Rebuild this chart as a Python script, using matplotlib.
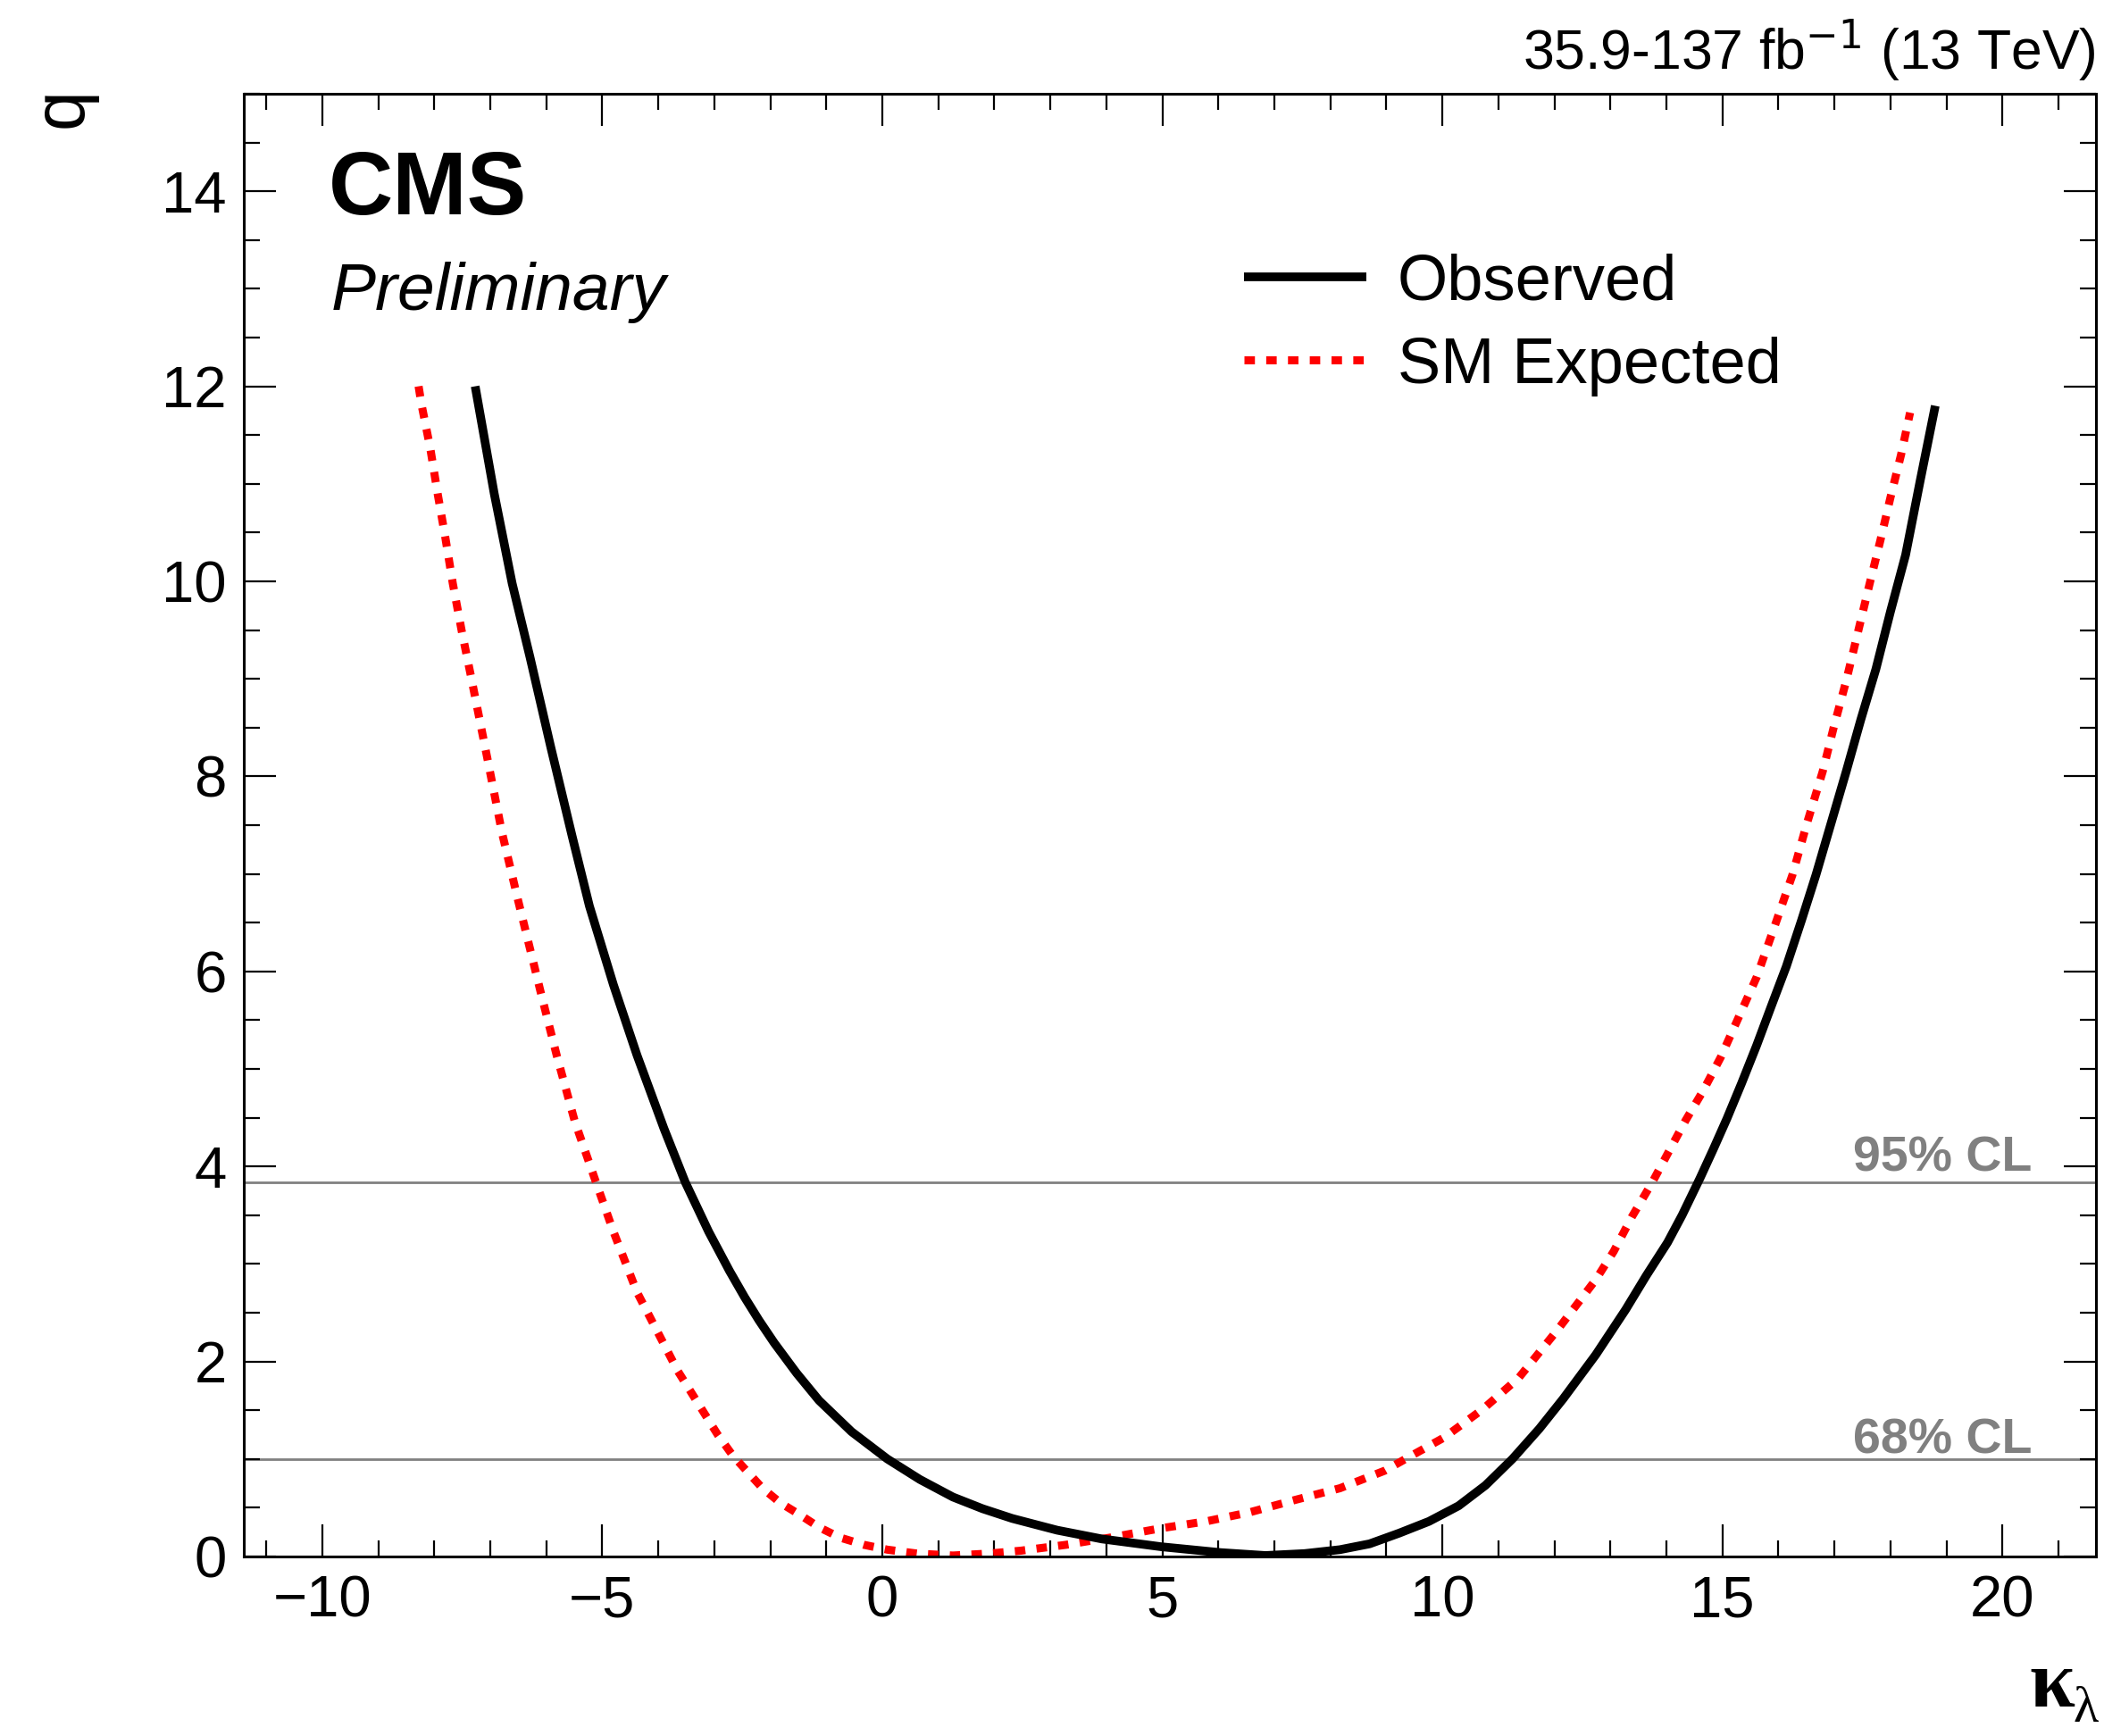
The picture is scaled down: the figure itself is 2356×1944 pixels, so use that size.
import matplotlib
matplotlib.use("Agg")
import matplotlib.pyplot as plt
from matplotlib.ticker import MultipleLocator
import matplotlib.transforms as mtransforms

plt.rcParams['font.family'] = ['Liberation Sans', 'DejaVu Sans']

# observed likelihood scan
obs_kl = [-7.27, -6.93, -6.61, -6.29, -5.92, -5.54, -5.23, -4.80, -4.38, -3.90,
          -3.52, -3.10, -2.73, -2.46, -2.20, -1.93, -1.53, -1.13, -0.55, 0.09,
          0.67, 1.26, 1.79, 2.32, 3.12, 3.92, 4.98, 6.04, 6.84, 7.54,
          8.17, 8.70, 9.23, 9.76, 10.29, 10.77, 11.25, 11.73, 12.16, 12.74,
          13.27, 13.64, 14.02, 14.28, 14.60, 14.84, 15.08, 15.34, 15.61, 15.87,
          16.14, 16.41, 16.67, 16.94, 17.21, 17.47, 17.74, 18.00, 18.27, 18.53,
          18.80]
obs_q = [12.0, 10.90, 9.98, 9.22, 8.30, 7.39, 6.67, 5.86, 5.14, 4.39,
         3.84, 3.33, 2.93, 2.66, 2.42, 2.19, 1.88, 1.60, 1.28, 1.00,
         0.79, 0.61, 0.49, 0.39, 0.27, 0.18, 0.10, 0.04, 0.01, 0.03,
         0.07, 0.13, 0.24, 0.36, 0.52, 0.73, 1.00, 1.31, 1.62, 2.07,
         2.53, 2.88, 3.22, 3.50, 3.88, 4.18, 4.49, 4.85, 5.24, 5.64,
         6.05, 6.52, 6.99, 7.52, 8.05, 8.58, 9.10, 9.69, 10.27, 11.03,
         11.80]

# SM expected scan
exp_kl = [-8.28, -8.23, -8.07, -7.94, -7.80, -7.67, -7.51, -7.35, -7.19, -7.03,
          -6.79, -6.50, -6.29, -6.08, -5.81, -5.49, -5.12, -4.80, -4.38, -3.65,
          -2.94, -2.67, -2.41, -2.14, -1.82, -1.45, -1.13, -0.76, -0.33, 0.09,
          0.62, 1.26, 1.90, 2.48, 3.28, 4.08, 4.98, 5.78, 6.57, 7.37,
          8.17, 8.97, 9.34, 10.03, 10.72, 11.36, 12.05, 12.74, 13.06, 13.38,
          13.75, 14.04, 14.34, 14.65, 14.97, 15.29, 15.61, 15.93, 16.25, 16.51,
          16.79, 16.99, 17.21, 17.42, 17.63, 17.82, 18.00, 18.19, 18.35]
exp_q = [12.0, 11.82, 11.36, 10.90, 10.44, 9.98, 9.49, 9.04, 8.58, 8.12,
         7.42, 6.72, 6.23, 5.74, 5.13, 4.46, 3.85, 3.33, 2.71, 1.90,
         1.25, 1.035, 0.87, 0.70, 0.55, 0.42, 0.30, 0.195, 0.12, 0.07,
         0.03, 0.01, 0.03, 0.06, 0.12, 0.195, 0.29, 0.36, 0.455, 0.58,
         0.70, 0.88, 1.00, 1.22, 1.51, 1.83, 2.32, 2.84, 3.13, 3.48,
         3.84, 4.15, 4.47, 4.77, 5.12, 5.53, 5.94, 6.46, 6.99, 7.52,
         8.05, 8.51, 8.98, 9.48, 9.98, 10.42, 10.86, 11.30, 11.73]

cl_values = [3.84, 1.0]
cl_labels = ["95% CL", "68% CL"]
cl_text_y = [3.95, 1.06]

fig = plt.figure(figsize=(23.56, 19.44), dpi=100)
ax = fig.add_axes([0.1159, 0.1034, 0.8803, 0.8426])

ax.set_xlim(-11.4, 21.67)
ax.set_ylim(0, 15)

# confidence level lines
trans = mtransforms.blended_transform_factory(ax.transAxes, ax.transData)
for val, lab, ty in zip(cl_values, cl_labels, cl_text_y):
    ax.axhline(val, color='#808080', lw=2.0, zorder=1)
    ax.text(0.9653, ty, lab, transform=trans, ha='right', va='baseline',
            fontsize=40, fontweight='bold', color='#808080')

ax.plot(obs_kl, obs_q, color='black', lw=7, solid_capstyle='butt',
        solid_joinstyle='round', label='Observed', zorder=3)
ax.plot(exp_kl, exp_q, color='red', lw=6.5, dashes=(1.3, 1.4),
        dash_capstyle='butt', label='SM Expected', zorder=2)

# ticks
ax.xaxis.set_major_locator(MultipleLocator(5))
ax.xaxis.set_minor_locator(MultipleLocator(1))
ax.yaxis.set_major_locator(MultipleLocator(2))
ax.yaxis.set_minor_locator(MultipleLocator(0.5))
ax.tick_params(which='both', direction='in', top=True, right=True, width=1.6)
ax.tick_params(which='major', length=26, labelsize=47)
ax.tick_params(which='minor', length=13)
ax.tick_params(axis='x', which='major', pad=15)
ax.tick_params(axis='y', which='major', pad=14)
for sp in ax.spines.values():
    sp.set_linewidth(2.2)

leg = ax.legend(loc='upper left', bbox_to_anchor=(0.540, 0.891), frameon=False,
                fontsize=52, handlelength=1.9, handletextpad=0.48,
                labelspacing=0.36, borderpad=0, borderaxespad=0)

ax.text(0.0458, 0.9176, "CMS", transform=ax.transAxes, fontsize=72,
        fontweight='bold', ha='left', va='baseline')
ax.text(0.0472, 0.8523, "Preliminary", transform=ax.transAxes, fontsize=54,
        fontstyle='italic', ha='left', va='baseline')
ax.text(1.0, 1.0165, r"35.9-137 fb$^{-1}$ (13 TeV)", transform=ax.transAxes,
        fontsize=45, ha='right', va='baseline')

# x axis title (kappa_lambda), bottom right as in ROOT
ax.text(0.9885, -0.1025, "κ", transform=ax.transAxes, fontsize=66,
        family='Liberation Serif', fontweight='bold', ha='right', va='baseline')
ax.text(1.0015, -0.1130, "λ", transform=ax.transAxes, fontsize=42,
        family='Liberation Serif', ha='right', va='baseline')
fig.text(0.046, 0.9496, "q", rotation=90, fontsize=58, ha='right', va='top')

fig.savefig("out.png", dpi=100)
